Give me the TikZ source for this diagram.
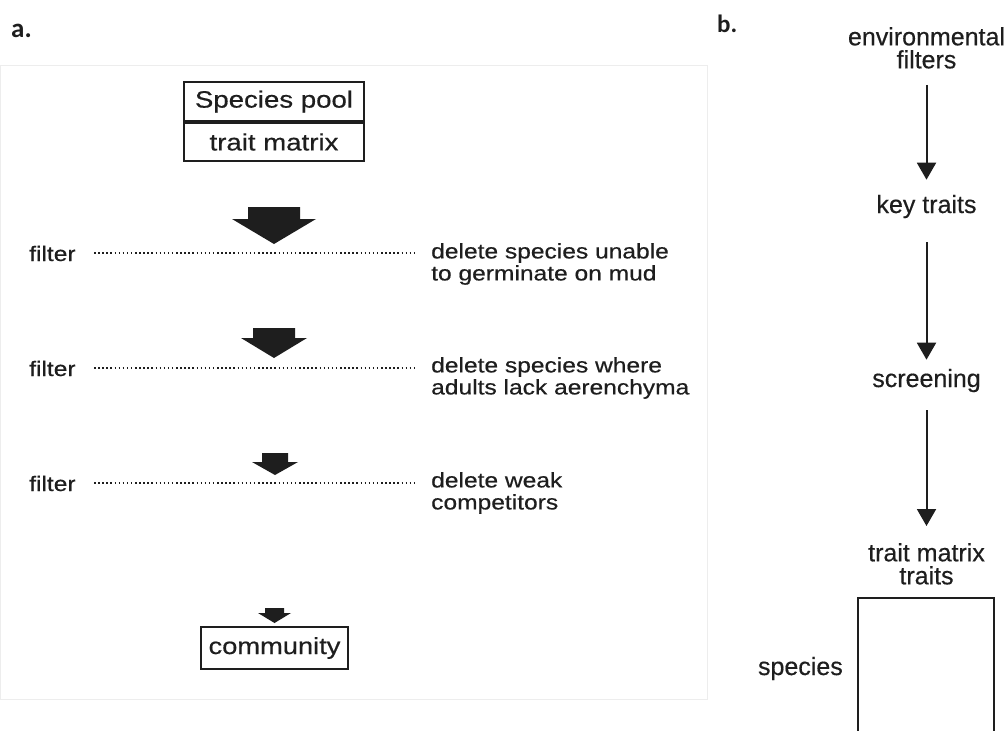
\documentclass[tikz,border=0pt]{standalone}
\usepackage{fontspec}
\setmainfont{Liberation Sans}[FakeBold=0.4]
\newfontfamily\widesans[FakeStretch=1.17,FakeBold=0.5]{Liberation Sans}
\newfontfamily\panelfont{Carlito}
\usetikzlibrary{arrows.meta}
\definecolor{ink}{HTML}{1E1E1E}
\definecolor{frame}{HTML}{EDEDED}

\begin{document}
\begin{tikzpicture}[x=1pt,y=-1pt,
  every node/.style={text=ink, inner sep=0pt},
  panel/.style={font=\panelfont\bfseries\fontsize{27}{30}\selectfont, anchor=base west},
  boxtext/.style={draw=ink, line width=2pt, font=\widesans\fontsize{23.6}{26}\selectfont},
  filtertag/.style={font=\widesans\fontsize{21}{22}\selectfont, anchor=base west},
  note/.style={font=\widesans\fontsize{21}{22}\selectfont, anchor=north west, align=left},
  filterline/.style={draw=ink, line width=1.6pt, dash pattern=on 1.5pt off 2.6pt},
  blockarrow/.style={fill=ink},
  label/.style={font=\fontsize{25}{23}\selectfont, align=center},
  flow/.style={draw=ink, line width=2pt, -{Triangle[width=19pt,length=17pt]}}
]
\useasboundingbox[fill=white] (0,0) rectangle (1007,731);

% ---------------- panel a ----------------
\draw[frame, line width=1pt] (0.5,65) rectangle (707,699);
\node[panel] (pa) at (11,37) {a.};

\node[boxtext, minimum width=180pt, minimum height=39pt] (pool) at (274,101.5) {Species pool};
\node[boxtext, minimum width=180pt, minimum height=38pt, anchor=north] (matrix) at (pool.south) {trait matrix};

% shrinking block arrows
\fill[blockarrow] (248,207) -- (300,207) -- (300,219) -- (316,219) -- (274,244) -- (232,219) -- (248,219) -- cycle;
\fill[blockarrow] (253,328) -- (295,328) -- (295,338) -- (307,338) -- (274,358) -- (241,338) -- (253,338) -- cycle;
\fill[blockarrow] (262,453) -- (288,453) -- (288,462) -- (298,462) -- (275,475) -- (252,462) -- (262,462) -- cycle;
\fill[blockarrow] (265,608) -- (284,608) -- (284,613) -- (291,613) -- (274.5,623) -- (258,613) -- (265,613) -- cycle;

% filter steps
\node[filtertag] (f1) at (29,261) {filter};
\node[filtertag] (f2) at (29,376) {filter};
\node[filtertag] (f3) at (29,491) {filter};
\node[note] (n1) at (431,243) {delete species unable\\to germinate on mud};
\node[note] (n2) at (431,357) {delete species where\\adults lack aerenchyma};
\node[note] (n3) at (431,472) {delete weak\\competitors};
\coordinate (l1a) at (94,253);  \coordinate (l1b) at (417,253);
\coordinate (l2a) at (94,368);  \coordinate (l2b) at (417,368);
\coordinate (l3a) at (94,483);  \coordinate (l3b) at (417,483);
\draw[filterline] (l1a) -- (l1b);
\draw[filterline] (l2a) -- (l2b);
\draw[filterline] (l3a) -- (l3b);

\node[boxtext, minimum width=147pt, minimum height=42pt, font=\widesans\fontsize{23.3}{26}\selectfont] (comm) at (274.5,648) {community};

% ---------------- panel b ----------------
\node[panel, font=\panelfont\bfseries\fontsize{25}{28}\selectfont] (pb) at (717,32) {b.};
\node[label, anchor=north] (env) at (926.5,27) {environmental\\filters};
\node[label, anchor=base] (key) at (926.5,213) {key traits};
\node[label, anchor=base] (scr) at (926.5,387) {screening};
\node[label, anchor=north] (tm) at (926.5,543) {trait matrix\\traits};
\node[label, anchor=base east] (sp) at (843,675) {species};

\draw[flow, shorten <=16pt, shorten >=15pt] (env) -- (key);
\draw[flow, shorten <=24pt, shorten >=9pt] (key) -- (scr);
\draw[flow, shorten <=18pt, shorten >=17pt] (scr) -- (tm);

% species-by-traits matrix (runs off the lower edge)
\draw[ink, line width=2.5pt] (858,731) -- (858,598) -- (994,598) -- (994,731);
\end{tikzpicture}
\end{document}
